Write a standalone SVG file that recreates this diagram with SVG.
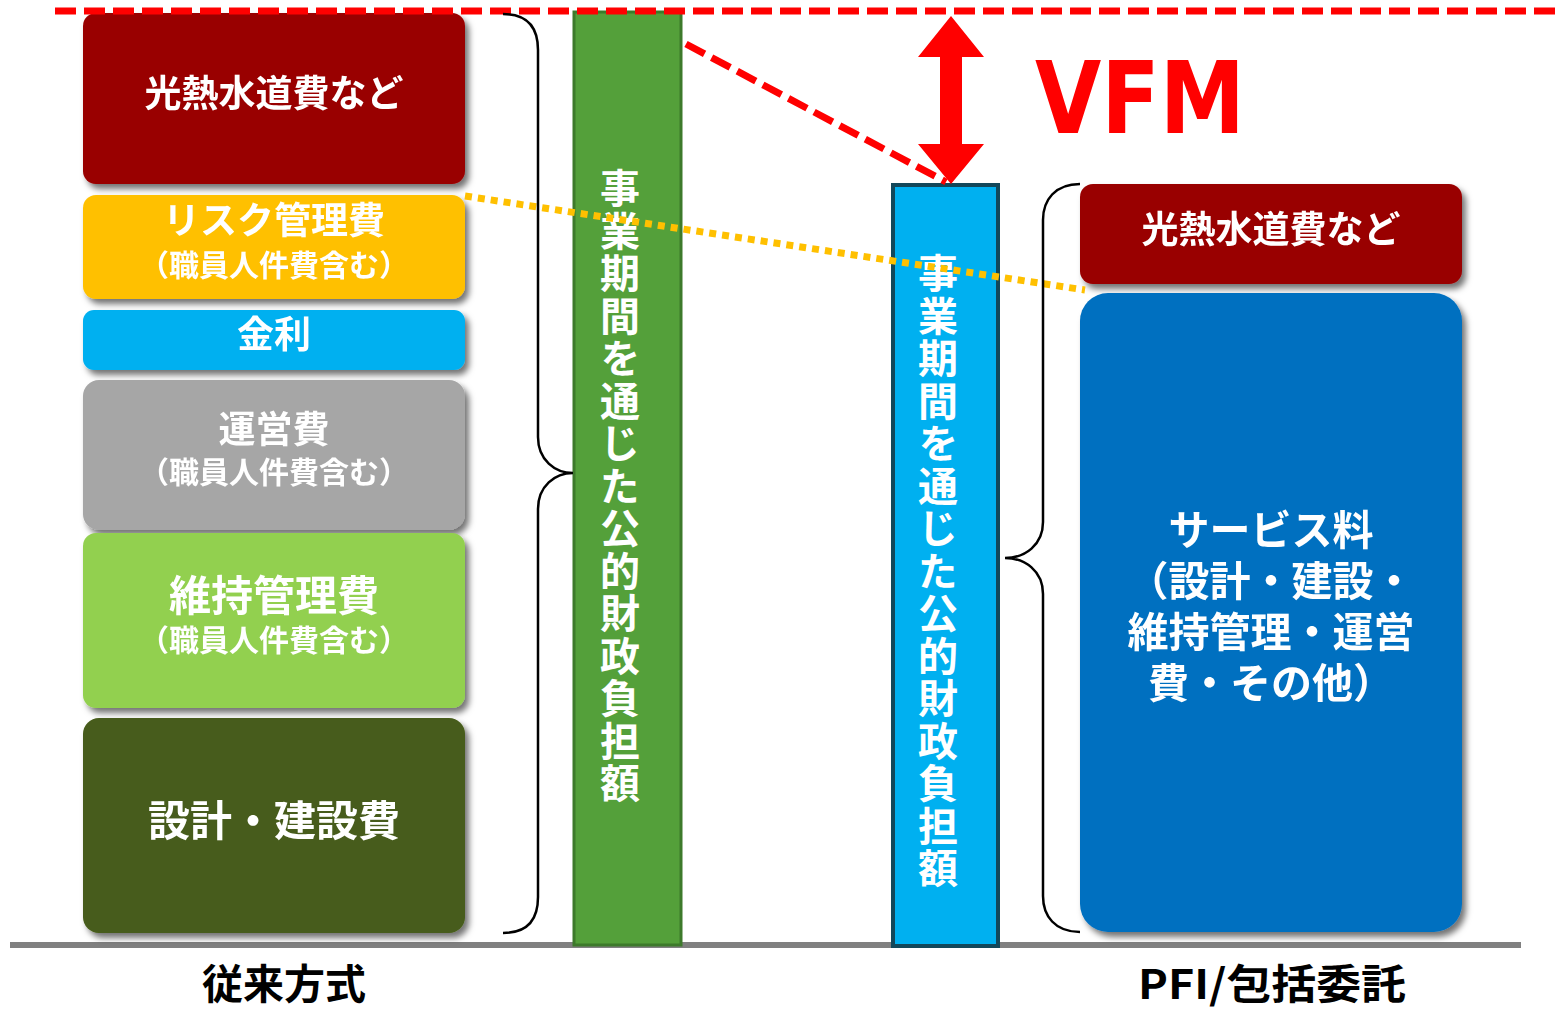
<svg xmlns="http://www.w3.org/2000/svg" width="1563" height="1012" viewBox="0 0 1563 1012">
<defs>
<filter id="sh" x="-10%" y="-10%" width="130%" height="130%">
<feDropShadow dx="4" dy="5" stdDeviation="3" flood-color="#000" flood-opacity="0.55"/>
</filter>
<style>
.jp{font-family:"Noto Sans CJK JP","Noto Sans CJK SC",sans-serif;font-weight:bold;text-anchor:middle}
.w{fill:#fff}
.k{fill:#000}
.vt{font-family:"Noto Sans CJK JP","Noto Sans CJK SC",sans-serif;font-weight:bold;fill:#fff;font-size:40px;writing-mode:vertical-rl;text-orientation:upright;letter-spacing:2.5px}
.brace{fill:none;stroke:#000;stroke-width:2.5}
</style>
</defs>
<rect width="1563" height="1012" fill="#fff"/>

<!-- baseline -->
<line x1="10" y1="945" x2="1521" y2="945" stroke="#808080" stroke-width="6"/>

<!-- left stack -->
<g id="n-kounetsu-l" filter="url(#sh)"><rect x="83" y="13" width="382" height="171" rx="13" fill="#990000"/><text class="jp w" x="274" y="107" font-size="37">光熱水道費など</text></g>
<g id="n-risk" filter="url(#sh)"><rect x="83" y="195" width="382" height="104" rx="13" fill="#FFC000"/><text class="jp w" x="274" y="234" font-size="37">リスク管理費</text><text class="jp w" x="274" y="276" font-size="30">（職員人件費含む）</text></g>
<g id="n-kinri" filter="url(#sh)"><rect x="83" y="310" width="382" height="60" rx="11" fill="#00B0F0"/><text class="jp w" x="274" y="348" font-size="37">金利</text></g>
<g id="n-unei" filter="url(#sh)"><rect x="83" y="380" width="382" height="150" rx="16" fill="#A6A6A6"/><text class="jp w" x="274" y="443" font-size="37">運営費</text><text class="jp w" x="274" y="483" font-size="30">（職員人件費含む）</text></g>
<g id="n-iji" filter="url(#sh)"><rect x="83" y="533" width="382" height="175" rx="13" fill="#92D050"/><text class="jp w" x="274" y="611" font-size="42">維持管理費</text><text class="jp w" x="274" y="651" font-size="30">（職員人件費含む）</text></g>
<g id="n-sekkei" filter="url(#sh)"><rect x="83" y="718" width="382" height="215" rx="16" fill="#465C1A"/><text class="jp w" x="274" y="836" font-size="42">設計・建設費</text></g>

<!-- bars -->
<g id="n-bar-green"><rect x="574" y="12" width="107" height="933" fill="#54A03A" stroke="#3D7A2B" stroke-width="3"/><text class="vt" x="620" y="168">事業期間を通じた公的財政負担額</text></g>
<g id="n-bar-blue"><rect x="893" y="185" width="105" height="761" fill="#00B0F0" stroke="#12475A" stroke-width="4"/><text class="vt" x="938" y="253">事業期間を通じた公的財政負担額</text></g>

<!-- right stack -->
<g id="n-kounetsu-r" filter="url(#sh)"><rect x="1080" y="184" width="382" height="100" rx="13" fill="#990000"/><text class="jp w" x="1271" y="243" font-size="37">光熱水道費など</text></g>
<g id="n-service" filter="url(#sh)"><rect x="1080" y="293" width="382" height="639" rx="28" fill="#0070C0"/>
<text class="jp w" font-size="41"><tspan x="1271" y="545">サービス料</tspan><tspan x="1271" y="596">（設計・建設・</tspan><tspan x="1271" y="647">維持管理・運営</tspan><tspan x="1271" y="698">費・その他）</tspan></text></g>

<!-- connectors -->
<g id="connectors">
<line x1="55" y1="11" x2="1563" y2="11" stroke="#FF0000" stroke-width="7" stroke-dasharray="21 8"/>
<line x1="686" y1="44" x2="946" y2="182" stroke="#FF0000" stroke-width="7" stroke-dasharray="21 8"/>
<line x1="465" y1="196" x2="1085" y2="290" stroke="#FFC000" stroke-width="7" stroke-dasharray="7 6"/>
<path class="brace" d="M503,14 C530,14 538,30 538,50 L538,437 C538,460 555,473 573,473 C555,473 538,486 538,509 L538,897 C538,917 530,933 503,933"/>
<path class="brace" d="M1080,184 C1055,184 1043,200 1043,220 L1043,522 C1043,545 1025,558 1005,558 C1025,558 1043,571 1043,594 L1043,896 C1043,916 1055,932 1080,932"/>
<polygon points="951,16 984,57 962,57 962,144 984,144 951,184 918,144 940,144 940,57 918,57" fill="#FF0000"/>
</g>

<text x="1140" y="133" font-family="'DejaVu Sans',sans-serif" font-weight="bold" font-size="100" fill="#FF0000" text-anchor="middle" textLength="210" lengthAdjust="spacingAndGlyphs">VFM</text>

<text class="jp k" x="284" y="999" font-size="41">従来方式</text>
<text class="jp k" x="1272" y="999" font-size="41" textLength="268" lengthAdjust="spacingAndGlyphs">PFI/包括委託</text>
</svg>
